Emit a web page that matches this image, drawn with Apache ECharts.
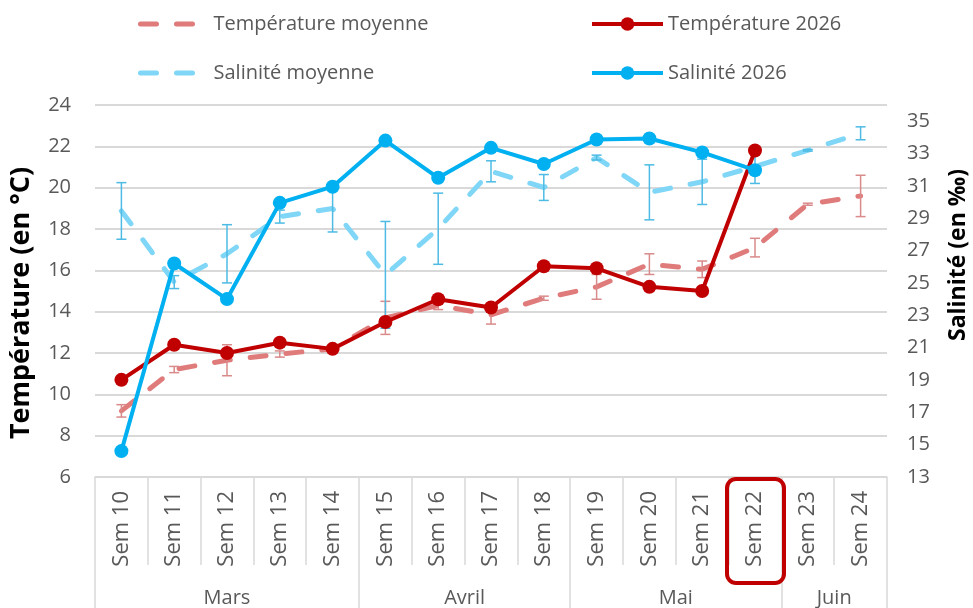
<!DOCTYPE html>
<html>
<head>
<meta charset="utf-8">
<style>
  html, body { margin: 0; padding: 0; background: #fff; }
  #main { width: 973px; height: 608px; }
</style>
<script src="https://cdn.jsdelivr.net/npm/echarts@6/dist/echarts.min.js"></script>
</head>
<body>
<div id="main"></div>
<script>
// semaines et mois
var weeks = ['Sem 10', 'Sem 11', 'Sem 12', 'Sem 13', 'Sem 14', 'Sem 15', 'Sem 16', 'Sem 17',
  'Sem 18', 'Sem 19', 'Sem 20', 'Sem 21', 'Sem 22', 'Sem 23', 'Sem 24'];
var months = ['Mars', 'Avril', 'Mai', 'Juin'];
var monthSpan = [5, 4, 4, 2];

// température (°C)
var temp2026 = [10.7, 12.4, 12.0, 12.5, 12.2, 13.5, 14.6, 14.2, 16.2, 16.1, 15.2, 15.0, 21.8, null, null];
var tempMean = [9.2, 11.2, 11.65, 11.95, 12.2, 13.7, 14.3, 13.85, 14.65, 15.2, 16.3, 16.05, 17.1, 19.2, 19.6];
var tempErr = [0.3, 0.15, 0.75, 0.15, 0.1, 0.8, 0.2, 0.45, 0.1, 0.6, 0.5, 0.4, 0.45, 0.05, 1.0];

// salinité (‰)
var sal2026 = [14.6, 26.2, 24.0, 29.95, 30.95, 33.8, 31.5, 33.35, 32.35, 33.87, 33.93, 33.07, 31.97, null, null];
var salMean = [29.45, 25.05, 26.8, 29.1, 29.6, 25.5, 28.35, 31.9, 30.9, 32.75, 30.6, 31.25, 32.2, 33.2, 34.25];
var salErr = [1.75, 0.4, 1.8, 0.4, 1.45, 3.3, 2.2, 0.65, 0.8, 0.15, 1.7, 1.4, 1.05, 0.05, 0.4];

var highlightWeek = 'Sem 22';

var FONT = '"Open Sans", sans-serif';
var GREY = '#595959';
var LINE = '#d9d9d9';

// bornes des mois sur l'axe (en nombre de semaines)
var monthEdges = [0];
var monthCenters = [];
monthSpan.forEach(function (n, i) {
  monthCenters.push(monthEdges[i] + n / 2);
  monthEdges.push(monthEdges[i] + n);
});

function errData(mean, err) {
  return mean.map(function (m, i) { return [i, m - err[i], m + err[i]]; });
}

function errBar(color) {
  return function (params, api) {
    var x = api.value(0);
    var top = api.coord([x, api.value(2)]);
    var bot = api.coord([x, api.value(1)]);
    var style = { stroke: color, lineWidth: 1.5 };
    return {
      type: 'group',
      children: [
        { type: 'line', shape: { x1: top[0], y1: top[1], x2: bot[0], y2: bot[1] }, style: style },
        { type: 'line', shape: { x1: top[0] - 5, y1: top[1], x2: top[0] + 5, y2: top[1] }, style: style },
        { type: 'line', shape: { x1: bot[0] - 5, y1: bot[1], x2: bot[0] + 5, y2: bot[1] }, style: style }
      ]
    };
  };
}

var chart = echarts.init(document.getElementById('main'));
chart.setOption({
  animation: false,
  textStyle: { fontFamily: FONT },
  grid: { left: 95, right: 86, top: 105, bottom: 131, outerBoundsMode: 'none' },
  legend: [{
    data: ['Température moyenne', 'Salinité moyenne'],
    orient: 'vertical',
    left: 133,
    top: 7,
    itemWidth: 58,
    itemHeight: 17,
    itemGap: 25,
    itemStyle: { opacity: 0 },
    lineStyle: { width: 5 },
    textStyle: { fontSize: 20, color: GREY, fontFamily: FONT, lineHeight: 24, padding: [0, 0, 0, 10] }
  }, {
    data: ['Température 2026', 'Salinité 2026'],
    orient: 'vertical',
    left: 585,
    top: 7,
    itemWidth: 71,
    itemHeight: 17,
    itemGap: 25,
    lineStyle: { width: 4 },
    textStyle: { fontSize: 20, color: GREY, fontFamily: FONT, lineHeight: 24 }
  }],
  xAxis: [{
    type: 'category',
    data: weeks,
    axisLine: { lineStyle: { color: LINE, width: 1.5 } },
    axisTick: { show: true, interval: 0, length: 88, lineStyle: { color: LINE, width: 1.5 } },
    axisLabel: { interval: 0, rotate: 90, margin: 14, fontSize: 22, color: GREY, fontFamily: FONT }
  }, {
    type: 'value',
    min: 0,
    max: 15,
    position: 'bottom',
    axisLine: { show: false },
    splitLine: { show: false },
    axisTick: { show: true, customValues: monthEdges, length: 131, lineStyle: { color: LINE, width: 1.5 } },
    axisLabel: {
      customValues: monthCenters,
      margin: 111,
      fontSize: 20,
      color: GREY,
      fontFamily: FONT,
      formatter: function (v) {
        var i = monthCenters.indexOf(v);
        return i >= 0 ? months[i] : '';
      }
    }
  }],
  yAxis: [{
    type: 'value',
    min: 6,
    max: 24,
    interval: 2,
    name: 'Température (en °C)',
    nameLocation: 'middle',
    nameRotate: 90,
    nameGap: 60,
    nameTextStyle: { fontSize: 27, fontWeight: 'bold', color: '#000', fontFamily: FONT, padding: [0, 24, 0, 0] },
    axisLine: { show: false },
    axisTick: { show: false },
    axisLabel: { fontSize: 20, color: GREY, margin: 24, fontFamily: FONT },
    splitLine: { lineStyle: { color: LINE, width: 2 } }
  }, {
    type: 'value',
    min: 13,
    max: 36,
    interval: 2,
    position: 'right',
    name: 'Salinité (en ‰)',
    nameLocation: 'middle',
    nameRotate: 90,
    nameGap: 60,
    nameTextStyle: { fontSize: 23, fontWeight: 'bold', color: '#000', fontFamily: FONT, padding: [0, 0, 0, 72] },
    axisLine: { show: false },
    axisTick: { show: false },
    axisLabel: { fontSize: 20, color: GREY, margin: 20, fontFamily: FONT, showMaxLabel: false },
    splitLine: { show: false }
  }],
  series: [{
    name: 'Température moyenne',
    type: 'line',
    yAxisIndex: 0,
    data: tempMean,
    symbol: 'none',
    color: '#E07B7B',
    lineStyle: { width: 5, type: [16, 20], cap: 'round', color: '#E07B7B' },
    z: 2
  }, {
    type: 'custom',
    yAxisIndex: 0,
    data: errData(tempMean, tempErr),
    encode: { x: 0, y: [1, 2] },
    renderItem: errBar('#D98A8A'),
    z: 3
  }, {
    name: 'Salinité moyenne',
    type: 'line',
    yAxisIndex: 1,
    data: salMean,
    symbol: 'none',
    color: '#7FD6F6',
    lineStyle: { width: 5, type: [16, 20], cap: 'round', color: '#7FD6F6' },
    z: 2
  }, {
    type: 'custom',
    yAxisIndex: 1,
    data: errData(salMean, salErr),
    encode: { x: 0, y: [1, 2] },
    renderItem: errBar('#4DBBE4'),
    z: 3
  }, {
    name: 'Température 2026',
    type: 'line',
    yAxisIndex: 0,
    data: temp2026,
    symbol: 'circle',
    symbolSize: 14,
    color: '#C00000',
    lineStyle: { width: 4, color: '#C00000' },
    z: 4
  }, {
    name: 'Salinité 2026',
    type: 'line',
    yAxisIndex: 1,
    data: sal2026,
    symbol: 'circle',
    symbolSize: 14,
    color: '#00B0F0',
    lineStyle: { width: 4, color: '#00B0F0' },
    z: 5
  }]
});

// cadre rouge autour de la semaine en cours
var cx = chart.convertToPixel({ xAxisIndex: 0 }, highlightWeek);
var y0 = chart.convertToPixel({ yAxisIndex: 0 }, 6);
chart.setOption({
  graphic: [{
    type: 'rect',
    shape: { x: cx - 28, y: y0 + 2, width: 57, height: 104, r: 9 },
    style: { fill: 'none', stroke: '#C00000', lineWidth: 4 },
    z: 10
  }]
});
</script>
</body>
</html>
